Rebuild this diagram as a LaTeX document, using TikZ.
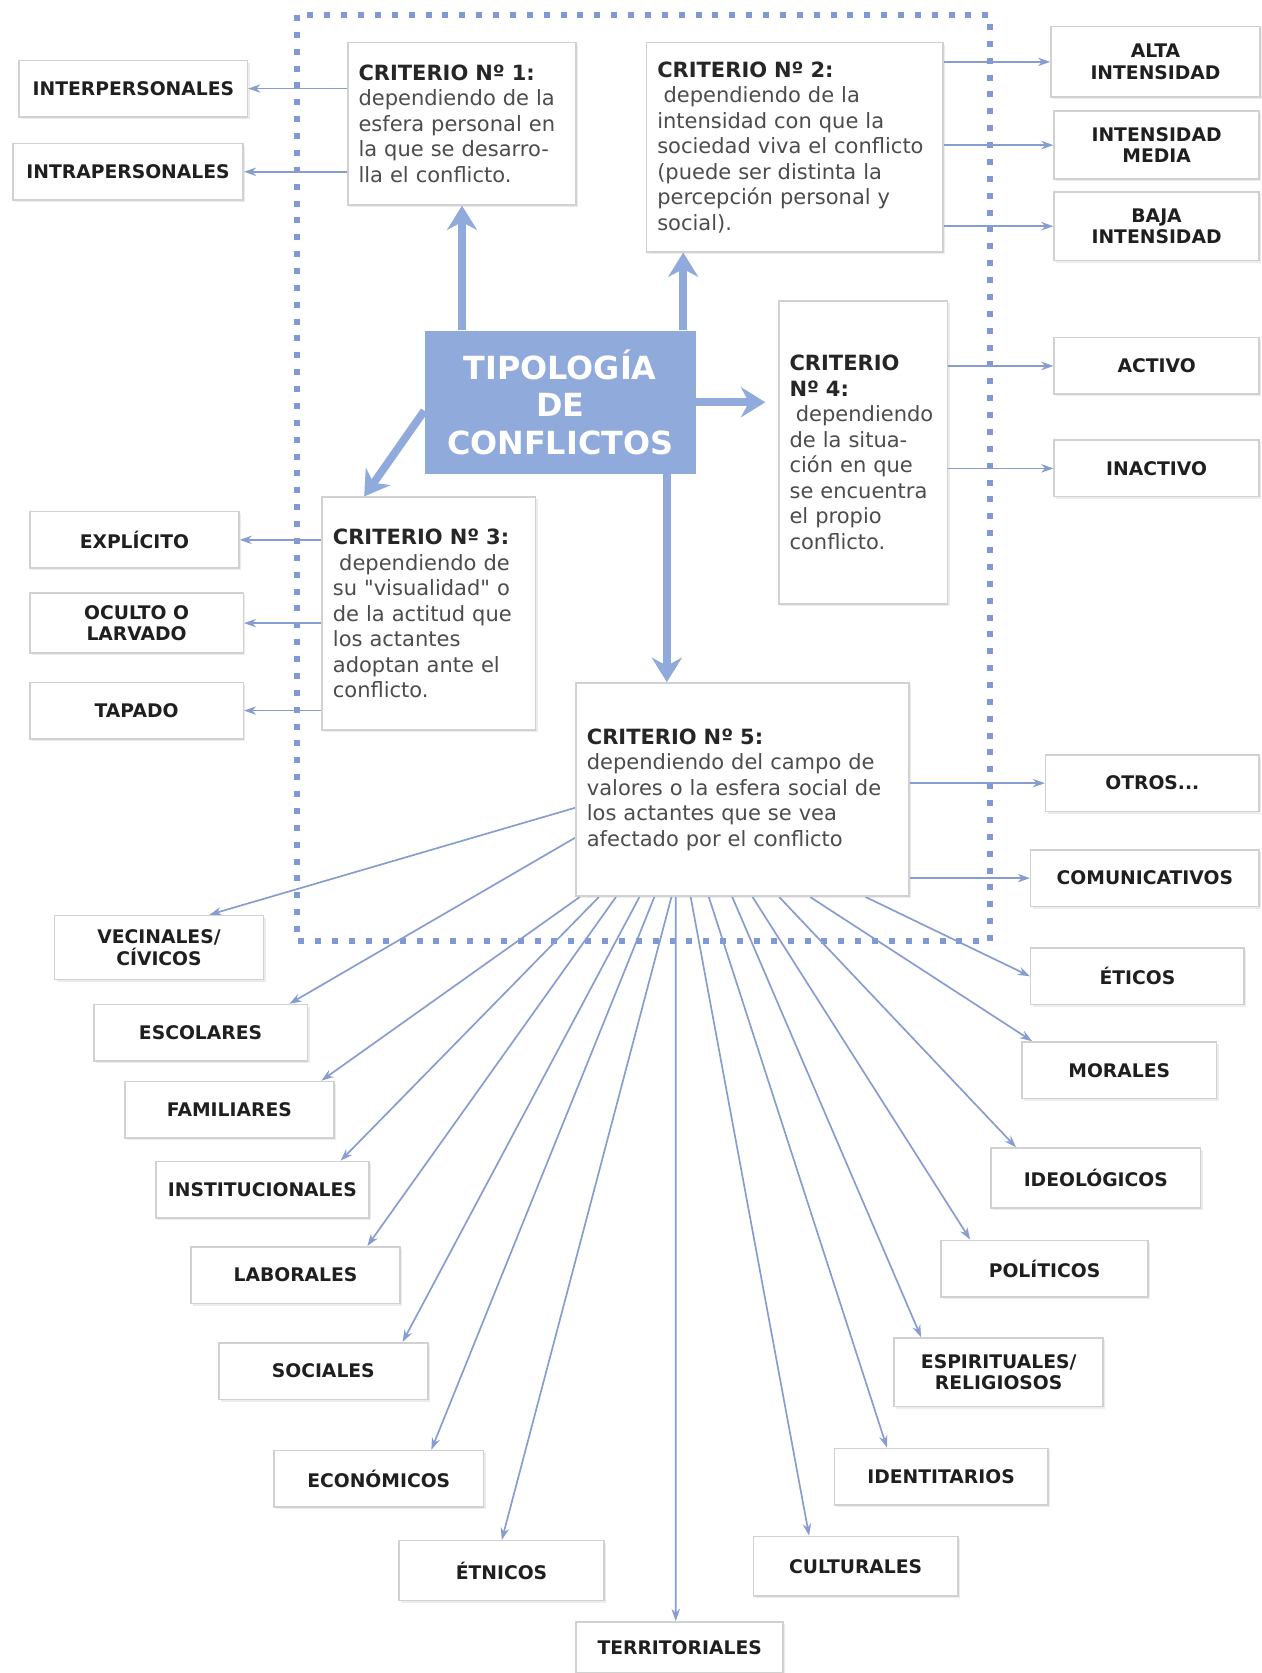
\documentclass[tikz,border=0pt]{standalone}
\usepackage{fontspec}
\setmainfont{DejaVu Sans}
\usepackage{tikz}
\usetikzlibrary{arrows.meta,calc,shadows}
\definecolor{azul}{RGB}{143,170,219}
\definecolor{azulfino}{RGB}{136,157,207}
\definecolor{azulpunto}{RGB}{128,152,212}
\newcommand{\crittit}[1]{{\bfseries\color{black!85}#1}}
\pgfdeclarelayer{fondo}
\pgfsetlayers{fondo,main}

\begin{document}
\begin{tikzpicture}[x=0.02cm,y=-0.02cm,
  caja/.style={draw=black!18,line width=0.8pt,fill=white,drop shadow={shadow xshift=1.2pt,shadow yshift=-1.2pt,opacity=0.15}},
  etiq/.style={caja,minimum width=3.92cm,minimum height=1.06cm,align=center,text=black!88,font=\bfseries\fontsize{10}{11.5}\selectfont},
  crit/.style={caja,align=left,inner xsep=0.2cm,text=black!70,font=\fontsize{11.2}{13.6}\selectfont},
  fina/.style={azulfino,line width=0.9pt,-{Stealth[length=6.5pt,width=4.5pt]}},
  gruesa/.style={azul,line width=4.2pt,-{Stealth[length=13pt,width=16pt]}}]
\useasboundingbox (0,0) rectangle (1182,1568);

\node (tipo) at (525,377) [fill=azul,minimum width=5.08cm,minimum height=2.68cm,text=white,align=center,font=\bfseries\fontsize{17}{20}\selectfont]{TIPOLOGÍA\\DE\\CONFLICTOS};

\node (crit1) at (433,116) [crit,text width=3.88cm,minimum height=3.04cm]{\crittit{CRITERIO Nº 1:}\\ dependiendo de la\\ esfera personal en\\ la que se desarro-\\ lla el conflicto.};
\node (crit2) at (745,138) [crit,text width=5.16cm,minimum height=3.92cm]{\crittit{CRITERIO Nº 2:}\\ \hspace*{0.3em}dependiendo de la\\ intensidad con que la\\ sociedad viva el conflicto\\ (puede ser distinta la\\ percepción personal y\\ social).};
\node (crit4) at (809,424) [crit,text width=2.76cm,minimum height=5.68cm]{\crittit{CRITERIO}\\ \crittit{Nº 4:}\\ \hspace*{0.3em}dependiendo\\ de la situa-\\ ción en que\\ se encuentra\\ el propio\\ conflicto.};
\node (crit3) at (402,575) [crit,text width=3.6cm,minimum height=4.36cm]{\crittit{CRITERIO Nº 3:}\\ \hspace*{0.3em}dependiendo de\\ su \textquotedbl visualidad\textquotedbl\ o\\ de la actitud que\\ los actantes\\ adoptan ante el\\ conflicto.};
\node (crit5) at (696,740) [crit,text width=5.84cm,minimum height=4cm]{\crittit{CRITERIO Nº 5:}\\ dependiendo del campo de\\ valores o la esfera social de\\ los actantes que se vea\\ afectado por el conflicto};

\node (inter) at (125,83) [etiq,minimum width=4.28cm]{INTERPERSONALES};
\node (intra) at (120,161) [etiq,minimum width=4.32cm]{INTRAPERSONALES};
\node (alta) at (1083,58) [etiq,minimum height=1.32cm]{ALTA\\INTENSIDAD};
\node (media) at (1084,136) [etiq,minimum width=3.84cm,minimum height=1.28cm]{INTENSIDAD\\MEDIA};
\node (baja) at (1084,212) [etiq,minimum width=3.84cm,minimum height=1.28cm]{BAJA\\INTENSIDAD};
\node (activo) at (1084,343) [etiq,minimum width=3.84cm]{ACTIVO};
\node (inactivo) at (1084,439) [etiq,minimum width=3.84cm]{INACTIVO};
\node (expl) at (126,506) [etiq]{EXPLÍCITO};
\node (oculto) at (128,584) [etiq,minimum width=4cm,minimum height=1.12cm]{OCULTO O\\LARVADO};
\node (tapado) at (128,666) [etiq,minimum width=4cm]{TAPADO};
\node (otros) at (1080,734) [etiq,minimum width=4cm]{OTROS...};
\node (comu) at (1073,823) [etiq,minimum width=4.28cm]{COMUNICATIVOS};
\node (vec) at (149,888) [etiq,minimum height=1.2cm]{VECINALES/\\CÍVICOS};
\node (esco) at (188,968) [etiq,minimum width=4cm]{ESCOLARES};
\node (fam) at (215,1040) [etiq]{FAMILIARES};
\node (inst) at (246,1115) [etiq,minimum width=4cm]{INSTITUCIONALES};
\node (lab) at (277,1195) [etiq]{LABORALES};
\node (soc) at (303,1285) [etiq]{SOCIALES};
\node (eco) at (355,1386) [etiq]{ECONÓMICOS};
\node (etn) at (470,1472) [etiq,minimum width=3.84cm,minimum height=1.12cm]{ÉTNICOS};
\node (terr) at (637,1544) [etiq,minimum width=3.88cm,minimum height=0.96cm]{TERRITORIALES};
\node (cult) at (802,1468) [etiq,minimum width=3.84cm,minimum height=1.12cm]{CULTURALES};
\node (iden) at (882,1384) [etiq,minimum width=4cm]{IDENTITARIOS};
\node (espi) at (936,1286) [etiq,minimum height=1.28cm]{ESPIRITUALES/\\RELIGIOSOS};
\node (poli) at (979,1189) [etiq,minimum width=3.88cm]{POLÍTICOS};
\node (ideo) at (1027,1104) [etiq,minimum height=1.12cm]{IDEOLÓGICOS};
\node (mor) at (1049,1003) [etiq,minimum width=3.64cm]{MORALES};
\node (etic) at (1066,915) [etiq,minimum width=4cm]{ÉTICOS};

\begin{pgfonlayer}{fondo}
\draw[azulpunto,line width=3.2pt,dash pattern=on 3.2pt off 5.8pt](278,14) rectangle (928,882);

\coordinate (t2) at ([xshift=-0.24cm]tipo.north east);
\coordinate (t4) at ([yshift=-0.16cm]tipo.west);
\coordinate (t5) at ([xshift=2cm]tipo.south);
\draw[gruesa](crit1 |- tipo.north)--(crit1.south);
\draw[gruesa](t2)--(t2 |- crit2.south);
\draw[gruesa,shorten >=0.24cm](tipo.east)--(crit4.west |- tipo.east);
\draw[gruesa](t4)--([xshift=0.8cm]crit3.north west);
\draw[gruesa](t5)--(t5 |- crit5.north);

\draw[fina](crit1.west |- inter)--(inter);
\draw[fina](crit1.west |- intra)--(intra);
\draw[fina](crit2.east |- alta)--(alta);
\draw[fina](crit2.east |- media)--(media);
\draw[fina](crit2.east |- baja)--(baja);
\draw[fina](crit4.east |- activo)--(activo);
\draw[fina](crit4.east |- inactivo)--(inactivo);
\draw[fina](crit3.west |- expl)--(expl);
\draw[fina](crit3.west |- oculto)--(oculto);
\draw[fina](crit3.west |- tapado)--(tapado);
\draw[fina](crit5.east |- otros)--(otros);
\draw[fina](crit5.east |- comu)--(comu);

\draw[fina]([yshift=-0.34cm]crit5.west)--([xshift=2.92cm]vec.north west);
\draw[fina]([yshift=-0.9cm]crit5.west)--([xshift=3.68cm]esco.north west);
\foreach \a/\n/\b in {0.08/fam/3.7,0.44/inst/3.48,0.76/lab/3.32,1.2/soc/3.46,1.48/eco/2.96,1.8/etn/1.94,1.88/terr/1.88,2.16/cult/1.06,2.5/iden/1.0,2.94/espi/0.52,3.32/poli/0.56,3.82/ideo/0.48,4.4/mor/0.2}
  \draw[fina]([xshift=\a cm]crit5.south west)--([xshift=\b cm]\n.north west);
\draw[fina]([xshift=5.44cm]crit5.south west)--(etic.west);
\end{pgfonlayer}
\end{tikzpicture}
\end{document}
